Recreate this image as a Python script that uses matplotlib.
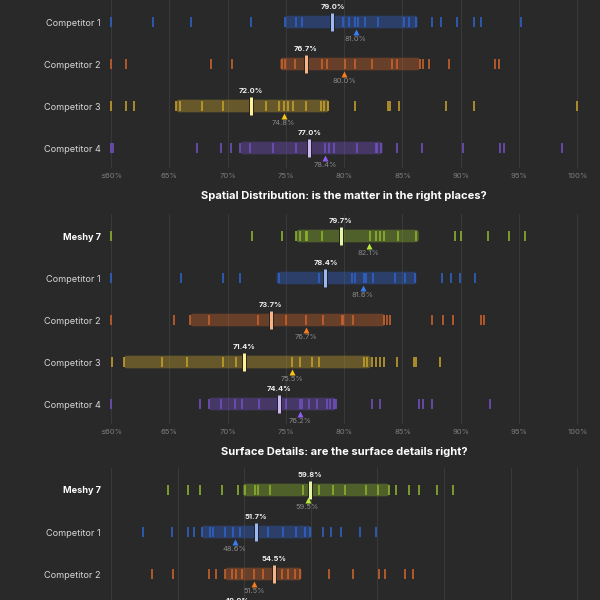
import matplotlib
matplotlib.use("Agg")
import matplotlib.pyplot as plt
import matplotlib.patheffects as pe
from matplotlib.patches import FancyBboxPatch

plt.rcParams["font.family"] = ["Inter", "DejaVu Sans"]

# ── style ────────────────────────────────────────────────────────────────────
BG        = "#292929"
GRID      = "#393939"
ROW_PX    = 42          # vertical distance between rows, pixels
AX_LEFT   = 108         # pixels
AX_RIGHT  = 590
X0_PX     = 111         # pixel of the first grid line
X1_PX     = 577.3       # pixel of the last grid line

ROWS        = ["Meshy 7", "Competitor 1", "Competitor 2", "Competitor 3", "Competitor 4"]
TICK_COLORS = ["#8db32f", "#2f62c9", "#c9622a", "#c4a02c", "#7050c0"]
MED_COLORS  = ["#e6f5a8", "#9bb8f0", "#f5b58a", "#fff19a", "#cdb8f5"]
TRI_COLORS  = ["#b8e838", "#3a7df5", "#f57c1f", "#f5c518", "#8f5cf5"]

# ── panel 1 (title row is above the visible area) ────────────────────────────
P1_TICKS  = [60, 65, 70, 75, 80, 85, 90, 95, 100]
P1_LABELS = ["≤60%", "65%", "70%", "75%", "80%", "85%", "90%", "95%", "100%"]
P1_POINTS = [
    [60, 70.5, 74.0, 76.2, 78.0, 79.5, 80.8, 82.0, 84.1, 85.5, 86.4, 87.9, 89.2, 91.0, 93.5, 97.0],
    [60, 63.6, 66.9, 72.0, 74.9, 75.9, 76.4, 79.9, 80.4, 80.9, 81.2, 81.8, 82.9, 85.1, 85.6,
     86.2, 87.5, 88.3, 89.7, 91.1, 91.7, 95.2],
    [60, 61.3, 68.6, 70.4, 74.7, 74.9, 75.8, 78.1, 78.5, 80.1, 80.9, 82.4, 84.1, 84.5, 86.5,
     86.8, 87.3, 89.0, 92.9, 93.3],
    [60, 61.3, 62.0, 65.6, 65.9, 67.8, 69.6, 73.3, 74.4, 74.8, 75.2, 75.6, 76.7, 78.0, 78.3,
     78.6, 80.9, 83.8, 83.9, 84.7, 88.7, 91.1, 100],
    [60, 60.2, 67.4, 69.4, 70.3, 71.1, 71.9, 73.9, 75.9, 78.4, 78.7, 79.1, 81.1, 82.7, 82.8,
     83.2, 84.5, 86.7, 90.2, 93.4, 93.7, 98.7],
]
P1_Q1     = [77.0, 74.9, 74.5, 65.6, 71.1]
P1_Q3     = [88.0, 86.3, 86.5, 78.7, 83.3]
P1_MEDIAN = [82.5, 79.0, 76.7, 72.0, 77.0]
P1_MEAN   = [83.7, 81.0, 80.0, 74.8, 78.4]

# ── panel 2 ──────────────────────────────────────────────────────────────────
P2_TITLE  = "Spatial Distribution: is the matter in the right places?"
P2_TICKS  = P1_TICKS
P2_LABELS = P1_LABELS
P2_POINTS = [
    [60, 72.1, 74.7, 75.9, 76.2, 76.7, 76.8, 78.1, 82.2, 82.7, 83.1, 83.4, 84.6, 86.2, 89.5,
     90.0, 92.3, 94.1, 95.5],
    [60, 66.0, 69.6, 71.1, 74.4, 77.8, 80.7, 80.9, 81.7, 81.9, 82.5, 84.4, 85.2, 86.1, 88.4,
     89.2, 89.9, 91.2],
    [60, 65.4, 66.8, 68.4, 72.6, 75.0, 76.7, 78.2, 79.8, 79.9, 80.8, 83.4, 83.7, 83.9, 87.5,
     88.5, 89.3, 91.7, 92.0],
    [60.1, 61.1, 64.4, 66.5, 69.6, 70.7, 75.5, 76.2, 77.2, 77.8, 81.7, 82.0, 82.4, 82.7, 83.1,
     83.4, 84.5, 86.0, 86.2, 88.2],
    [60, 67.6, 68.4, 69.4, 70.6, 71.2, 72.7, 75.0, 76.2, 76.4, 77.0, 77.7, 78.5, 78.8, 79.1,
     79.3, 82.4, 83.1, 86.4, 86.8, 87.5, 92.5],
]
P2_Q1     = [75.9, 74.2, 66.8, 61.1, 68.4]
P2_Q3     = [86.4, 86.2, 83.5, 82.3, 79.3]
P2_MEDIAN = [79.7, 78.4, 73.7, 71.4, 74.4]
P2_MEAN   = [82.1, 81.6, 76.7, 75.5, 76.2]

# ── panel 3 (lower rows run past the bottom edge) ────────────────────────────
P3_TITLE  = "Surface Details: are the surface details right?"
P3_TICKS  = [30, 40, 50, 60, 70, 80, 90, 100]
P3_LABELS = ["≤30%", "40%", "50%", "60%", "70%", "80%", "90%", "100%"]
P3_POINTS = [
    [38.5, 41.6, 43.4, 46.7, 49.0, 50.1, 51.6, 52.1, 53.8, 58.8, 61.2, 63.3, 65.1, 68.3, 70.1,
     71.7, 72.8, 74.7, 76.2, 79.0, 81.4],
    [34.8, 39.2, 41.6, 42.5, 43.6, 44.8, 45.3, 47.1, 48.3, 49.3, 53.6, 55.8, 57.8, 59.1, 59.8,
     61.9, 63.1, 64.6, 67.4, 69.8],
    [36.2, 39.3, 44.7, 45.8, 47.1, 48.1, 48.8, 49.6, 51.4, 52.8, 55.6, 56.6, 57.6, 58.3, 62.7,
     66.3, 70.3, 71.1, 74.2, 75.4],
    [32.0, 38.5, 42.0, 44.5, 47.0, 50.5, 53.0, 56.0, 61.0, 66.5],
    [31.0, 36.0, 40.5, 44.0, 47.5, 51.0, 54.5, 58.0, 63.0],
]
P3_Q1     = [49.8, 43.6, 47.1, 42.0, 40.5]
P3_Q3     = [71.8, 60.1, 58.6, 56.0, 54.5]
P3_MEDIAN = [59.8, 51.7, 54.5, 48.9, 47.0]
P3_MEAN   = [59.5, 48.6, 51.5, 48.0, 46.5]
# ─────────────────────────────────────────────────────────────────────────────


def on_canvas(px):
    # texts that would land wholly outside the 600 px picture are skipped
    return -6 < px < 606


def draw_panel(fig, row0_px, title, title_px, ticks, labels, points, q1, q3, med, mean):
    n = len(ROWS)
    top_px = row0_px - 22
    bot_px = row0_px + (n - 1) * ROW_PX + 20
    ax = fig.add_axes([AX_LEFT / 600, 1 - bot_px / 600,
                       (AX_RIGHT - AX_LEFT) / 600, (bot_px - top_px) / 600])
    ax.set_facecolor(BG)

    pxper = (X1_PX - X0_PX) / (ticks[-1] - ticks[0])
    ax.set_xlim(ticks[0] - (X0_PX - AX_LEFT) / pxper,
                ticks[-1] + (AX_RIGHT - X1_PX) / pxper)
    ax.set_ylim(n - 1 + (bot_px - row0_px - (n - 1) * ROW_PX) / ROW_PX,
                -(row0_px - top_px) / ROW_PX)

    for s in ax.spines.values():
        s.set_visible(False)
    row_px = [row0_px + i * ROW_PX for i in range(n)]
    ax.set_xticks(ticks, labels if on_canvas(bot_px + 8) else [""] * len(ticks))
    ax.set_yticks(range(n), [r if on_canvas(p) else "" for r, p in zip(ROWS, row_px)])
    ax.tick_params(axis="x", length=0, pad=3.5, labelsize=5.5, labelcolor="#7d7d7d")
    ax.tick_params(axis="y", length=0, pad=5, labelsize=6.6, labelcolor="#d6d6d6")
    ax.get_yticklabels()[0].set_fontweight("bold")
    ax.get_yticklabels()[0].set_color("white")
    ax.grid(axis="x", color=GRID, lw=0.8)
    ax.set_axisbelow(True)

    for i in range(n):
        y = i
        box = FancyBboxPatch((q1[i], y - 0.15), q3[i] - q1[i], 0.30,
                             boxstyle=f"round,pad=0,rounding_size={3 / pxper}",
                             mutation_aspect=pxper / ROW_PX,
                             fc=TICK_COLORS[i], alpha=0.4, ec="none", zorder=2)
        ax.add_patch(box)
        ax.vlines(points[i], y - 0.11, y + 0.11, colors=TICK_COLORS[i],
                  lw=1.3, alpha=0.9, zorder=3)
        ax.vlines(med[i], y - 0.21, y + 0.21, color=MED_COLORS[i], lw=2.2, zorder=5,
                  path_effects=[pe.Stroke(linewidth=3.4, foreground="#1c1c1c"), pe.Normal()])
        if on_canvas(row_px[i] - 15):
            ax.text(med[i], y - 0.36, f"{med[i]:.1f}%", ha="center", va="center",
                    fontsize=5.4, fontweight="bold", color="#f0f0f0", zorder=6)
        ax.plot(mean[i], y + 0.245, marker="^", ms=3.8, color=TRI_COLORS[i],
                mec="none", zorder=6)
        if on_canvas(row_px[i] + 17):
            ax.text(mean[i], y + 0.40, f"{mean[i]:.1f}%", ha="center", va="center",
                    fontsize=5.4, color="#8a8a8a", zorder=6)

    if title:
        fig.text(344 / 600, 1 - title_px / 600, title, ha="center", va="center",
                 fontsize=8.0, fontweight="bold", color="white")
    return ax


fig = plt.figure(figsize=(6, 6), dpi=100, facecolor=BG)
draw_panel(fig, -20, None, None, P1_TICKS, P1_LABELS, P1_POINTS,
           P1_Q1, P1_Q3, P1_MEDIAN, P1_MEAN)
draw_panel(fig, 236, P2_TITLE, 196, P2_TICKS, P2_LABELS, P2_POINTS,
           P2_Q1, P2_Q3, P2_MEDIAN, P2_MEAN)
draw_panel(fig, 490, P3_TITLE, 452, P3_TICKS, P3_LABELS, P3_POINTS,
           P3_Q1, P3_Q3, P3_MEDIAN, P3_MEAN)
fig.savefig("out.png", dpi=100, facecolor=BG)
